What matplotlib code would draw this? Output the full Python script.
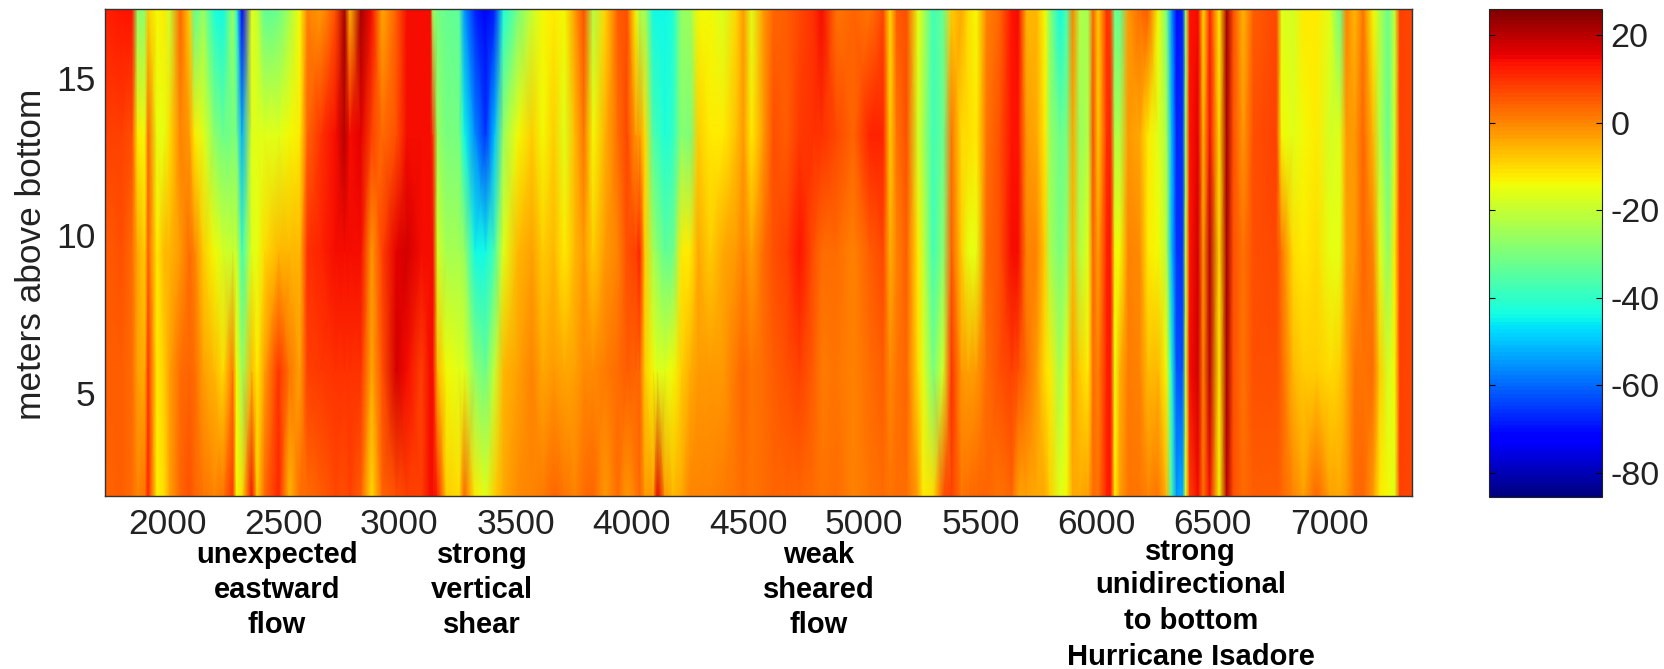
import numpy as np
import matplotlib
matplotlib.use("Agg")
import matplotlib.pyplot as plt

plt.rcParams['font.family'] = ['Liberation Sans', 'DejaVu Sans']

depth_m = [1.73, 5.7, 9.5, 13.2, 17.19]

time_index = [
    1733, 1804, 1850, 1873, 1904, 1919, 1957, 1988, 2011, 2057,
    2096, 2119, 2157, 2203, 2242, 2283, 2299, 2323, 2365, 2388,
    2419, 2480, 2526, 2572, 2603, 2664, 2726, 2764, 2787, 2834,
    2880, 2926, 2987, 3033, 3095, 3133, 3144, 3164, 3202, 3256,
    3279, 3325, 3371, 3410, 3448, 3510, 3571, 3617, 3664, 3710,
    3756, 3794, 3833, 3886, 3940, 3979, 4017,
    4035, 4057, 4092, 4110, 4143, 4178, 4214, 4250, 4286, 4336,
    4394, 4451, 4480, 4515, 4566, 4609, 4666, 4723, 4781, 4817,
    4881, 4953, 5024, 5082, 5111, 5139, 5182, 5232, 5254, 5297,
    5340, 5376, 5419, 5447, 5483, 5526, 5584, 5634, 5663, 5698,
    5742, 5778, 5799, 5842, 5871, 5897, 5928, 5964, 5985, 6007,
    6043, 6060, 6079, 6100, 6136, 6186, 6222, 6265, 6301, 6322,
    6344, 6370, 6384, 6401, 6437, 6459, 6487, 6528, 6559, 6588,
    6631, 6674, 6774, 6796, 6846, 6889, 6946, 7004, 7047, 7075,
    7111, 7147, 7190, 7219, 7255, 7283, 7305, 7357,
]

u_at_17m = [
    12, 13, 13, -28, -28, -8, -14, -12, -20, 4,
    -8, -34, -26, -42, -44, -25, -40, -72, -16, -20,
    -34, -32, -24, -14, 0, -2, 6, 22, -6, 22,
    14, -4, 5, 14, 14, 14, -26, -30, -33, -34,
    -55, -68, -74, -68, -42, -30, -20, -14, -12, -14,
    -2, 6, -22, -9, 5, 6, -14,
    -24, -24, -44, -44, -44, -42, -26, -26, -14, -14,
    -17, -9, -2, -16, -2, 4, 5, 7, 10, 14,
    2, 4, 2, 7, -10, 5, 6, -15, -22, -38,
    -32, -8, -4, -10, -14, 0, 4, 13, 14, -6,
    -6, -14, -28, -44, -36, 0, -22, -24, 4, -8,
    10, 8, -32, -34, -2, 3, 5, -14, -30, -55,
    -70, -68, -25, 13, 14, -10, 12, -12, 22, 6,
    -6, 5, 7, -16, -18, -12, -12, -16, -32, 0,
    -6, 2, -14, -22, -33, -20, 8, 7,
]

u_at_13m = [
    8, 8, 6, -12, -14, 4, -15, -15, -10, 0,
    -2, -12, -16, -28, -32, -30, -30, -52, -16, -16,
    -16, -16, -14, -12, 4, 10, 14, 20, 14, 16,
    8, 3, 6, 14, 14, 14, 10, -26, -30, -30,
    -44, -56, -66, -50, -26, -14, -8, -14, -8, -16,
    -6, 2, -14, -5, 3, 7, -2,
    -2, -10, -36, -38, -42, -40, -28, -30, -8, -12,
    -12, -7, -2, -12, -2, 6, 5, 9, 10, 10,
    7, 4, 12, 12, -8, 2, 6, -18, -24, -38,
    -32, 2, -10, -10, -12, 2, 6, 13, 13, -2,
    -4, -12, -26, -32, -30, -4, -26, -22, 6, -8,
    10, 12, -22, -22, -2, -4, -12, -16, -24, -50,
    -68, -66, -26, 13, 16, -6, 14, -10, 22, 6,
    -2, 6, 8, -14, -16, -14, -12, -18, -16, -2,
    -2, 4, -6, -22, -33, -18, 8, 7,
]

u_at_9m = [
    5, 6, 3, -4, -8, 5, -12, -6, -6, -2,
    3, 0, -8, -14, -18, -20, -18, -38, -16, -15,
    -10, -6, -6, -6, 10, 12, 14, 14, 14, 14,
    -2, 8, 16, 18, 14, 14, 14, -18, -24, -24,
    -26, -44, -44, -36, -16, -6, -3, -8, -6, -12,
    -6, -2, -8, -2, 0, 6, 8,
    12, -8, -24, -28, -34, -32, -12, -12, -4, -8,
    -4, -2, 0, -3, 3, 6, 8, 13, 6, 3,
    3, 0, 5, 7, -5, 0, 5, -12, -20, -38,
    -28, 5, -8, -15, -15, 4, 6, 14, 14, 0,
    0, -8, -24, -30, -26, -6, -22, -16, 4, -3,
    12, 13, -14, -14, 0, -1, -12, -14, -22, -50,
    -66, -66, -20, 13, 18, -2, 20, -10, 22, 6,
    2, 6, 7, 2, -10, -12, -10, -15, -15, -3,
    -2, 4, 0, -16, -28, -12, 8, 7,
]

u_at_6m = [
    5, 5, 3, -3, -5, 10, -12, -8, -3, 3,
    4, 3, -3, -6, -10, 2, -14, -26, -6, -12,
    -3, 10, 2, -3, 8, 9, 10, 10, 10, 10,
    -4, 6, 18, 14, 8, 14, 14, -6, -14, -16,
    -16, -28, -32, -20, -6, -3, 0, -4, -2, -4,
    -3, -1, -1, 1, 3, 5, 4,
    4, -8, -14, -16, -16, -14, -8, -5, -2, -2,
    -2, 2, 4, 2, 3, 5, 6, 8, 5, 1,
    2, 0, 3, 5, -1, 2, 4, -10, -16, -30,
    -18, 10, -2, -3, -2, 3, 6, 8, 6, 3,
    -2, -10, -12, -24, -16, -3, -8, -12, 3, 0,
    12, 13, -15, -5, 1, 0, -7, -6, -14, -42,
    -62, -62, -20, 14, 18, 0, 20, -12, 22, 6,
    2, 6, 6, 4, -6, -8, -8, -10, -8, -4,
    2, 2, 3, -8, -18, -14, 8, 7,
]

u_at_2m = [
    4, 5, 3, 0, 2, 12, -13, -10, -3, 4,
    6, 4, 2, 0, 2, 10, -14, -10, 14, -8,
    3, 12, -6, 3, 3, 5, 7, 6, 8, 5,
    -10, 4, 6, 8, 8, 14, 14, 12, -8, -10,
    4, -12, -16, -8, -4, -1, 0, 1, 4, 2,
    0, 3, 4, -2, 3, -2, 1,
    4, -2, -2, 16, -2, -6, -4, 0, 0, 0,
    1, 2, 3, 2, 3, 4, 4, 4, 3, 2,
    3, 0, 2, 3, 2, 3, 3, -3, -12, -10,
    6, 8, 2, 3, 4, 4, 2, 4, -3, -3,
    -4, -4, -8, -16, -14, -4, -4, -3, 3, 2,
    12, 13, -12, -3, 2, 2, 0, 2, -6, -36,
    -55, -52, -16, 8, 14, 2, 14, -14, 20, 6,
    3, 5, 5, 4, 0, -3, 4, -3, -4, -2,
    3, 4, -2, -12, -14, -16, 8, 7,
]

x_ticks = [2000, 2500, 3000, 3500, 4000, 4500, 5000, 5500, 6000, 6500, 7000]
y_ticks = [5, 10, 15]
cbar_ticks = [20, 0, -20, -40, -60, -80]
cbar_labels = ['20', '0', '-20', '-40', '-60', '-80']

notes = [
    ('unexpected', 277, 563), ('eastward', 277, 598), ('flow', 277, 633),
    ('strong', 482, 563), ('vertical', 482, 598), ('shear', 482, 633),
    ('weak', 819, 563), ('sheared', 819, 598), ('flow', 819, 633),
    ('strong', 1190, 560), ('unidirectional', 1191, 593),
    ('to bottom', 1191, 629), ('Hurricane Isadore', 1191, 665),
]

W, H = 1665, 669
INK = '#222222'
fig = plt.figure(figsize=(W / 100, H / 100), dpi=100, facecolor='white')


def px_axes(left, top, right, bottom):
    return fig.add_axes([left / W, 1 - bottom / H, (right - left) / W, (bottom - top) / H])


ax = px_axes(105, 9, 1412, 496)
U = np.array([u_at_2m, u_at_6m, u_at_9m, u_at_13m, u_at_17m], dtype=float)
cmap = plt.get_cmap('jet', 128)
mesh = ax.pcolormesh(time_index, depth_m, U, cmap=cmap, vmin=-85.5, vmax=26, shading='gouraud')
ax.set_xlim(1733, 7357)
ax.set_ylim(1.73, 17.19)
ax.set_xticks(x_ticks)
ax.set_yticks(y_ticks)
ax.tick_params(length=0, labelsize=25.5, labelcolor=INK)
ax.tick_params(axis='x', pad=8.5)
ax.tick_params(axis='y', pad=7)
ax.set_ylabel('meters above bottom', fontsize=25.4, color=INK)
ax.yaxis.set_label_coords(-57 / 1307, 0.497)
for s in ax.spines.values():
    s.set_linewidth(1.0)
    s.set_color('#333333')

cax = px_axes(1489, 9, 1602, 497)
cb = fig.colorbar(mesh, cax=cax)
cb.set_ticks(cbar_ticks)
cb.set_ticklabels(cbar_labels)
cax.tick_params(axis='y', direction='in', left=True, right=True, length=4, width=0.8,
                labelsize=24.5, labelcolor=INK, pad=6)
cb.outline.set_linewidth(0.8)
cb.outline.set_edgecolor('#222222')

for txt, x, y in notes:
    fig.text(x / W, 1 - y / H, txt, ha='center', va='baseline', fontsize=21,
             fontweight='bold', color='black')

fig.savefig('out.png', dpi=100)
